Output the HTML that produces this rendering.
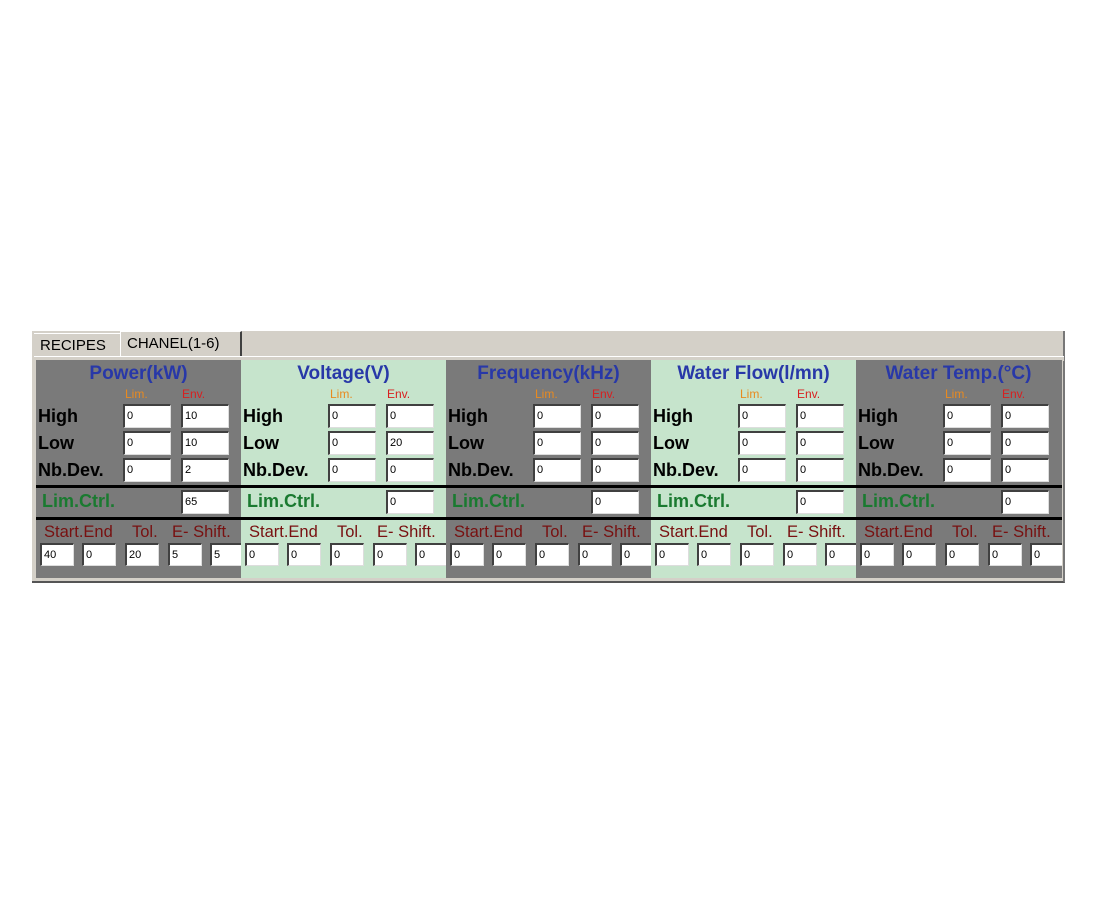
<!DOCTYPE html>
<html><head><style>
body{margin:0;width:1100px;height:900px;background:#fff;position:relative;font-family:"Liberation Sans",sans-serif;overflow:hidden}
.a{position:absolute}
#outer{left:32px;top:331px;width:1033px;height:252px;background:#d4d0c8;border-bottom:2px solid #555;border-right:2px solid #777;box-sizing:border-box}
.tab{position:absolute;top:333px;height:23px;font-size:15px;line-height:23px;color:#000;padding-left:6px;box-sizing:border-box}
.col{position:absolute;top:360px;width:205px;height:218px;overflow:hidden}
.g{background:#7a7a7a}.l{background:#c6e4cc}
.t{position:absolute;top:3px;left:0;width:205px;text-align:center;font-weight:bold;font-size:19px;color:#2838a8}
.lim{position:absolute;top:27px;left:89px;font-size:12px;color:#e88a20}
.env{position:absolute;top:27px;left:146px;font-size:12px;color:#d82020}
.lb{position:absolute;left:2px;font-weight:bold;font-size:18px;color:#000}
.i{position:absolute;background:#fff;border-top:2px solid #404040;border-left:2px solid #404040;border-right:1px solid #ddd;border-bottom:1px solid #ddd;box-sizing:border-box;font-size:11px;padding-left:2px;line-height:20px;color:#000}
.w{width:48px;height:24px;line-height:20px}
.s{width:34px;height:23px;top:183px}
.bar{position:absolute;left:0;width:205px;height:3px;background:#000}
.lc{position:absolute;left:6px;top:131px;font-size:18px;font-weight:bold;color:#1a7a30}
.se{position:absolute;top:163px;font-size:16.5px;color:#781010}
</style></head><body>
<div id="outer" class="a"></div>
<div class="tab" style="left:34px;width:86px;background:#d4d0c8;border-top:1px solid #fff">RECIPES</div>
<div class="tab" style="left:120px;width:122px;top:331px;height:25px;border-right:2px solid #404040;border-top:1px solid #fff;border-left:1px solid #fff">CHANEL(1-6)</div>
<div class="a" style="left:34px;top:356px;width:1030px;height:4px;background:#d4d0c8;border-top:1px solid #fff"></div>

<div class="col g" style="left:36px">
<div class="t">Power(kW)</div><div class="lim">Lim.</div><div class="env">Env.</div>
<div class="lb" style="top:46px">High</div><div class="lb" style="top:73px">Low</div><div class="lb" style="top:100px">Nb.Dev.</div>
<div class="i w" style="left:87px;top:44px">0</div><div class="i w" style="left:145px;top:44px">10</div>
<div class="i w" style="left:87px;top:71px">0</div><div class="i w" style="left:145px;top:71px">10</div>
<div class="i w" style="left:87px;top:98px">0</div><div class="i w" style="left:145px;top:98px">2</div>
<div class="bar" style="top:125px"></div><div class="lc">Lim.Ctrl.</div><div class="i w" style="left:145px;top:130px">65</div>
<div class="bar" style="top:157px"></div>
<div class="se" style="left:8px">Start.End</div><div class="se" style="left:96px">Tol.</div><div class="se" style="left:136px">E- Shift.</div>
<div class="i s" style="left:4px">40</div><div class="i s" style="left:46px">0</div><div class="i s" style="left:89px">20</div><div class="i s" style="left:132px">5</div><div class="i s" style="left:174px">5</div>
</div>
<div class="col l" style="left:241px">
<div class="t">Voltage(V)</div><div class="lim">Lim.</div><div class="env">Env.</div>
<div class="lb" style="top:46px">High</div><div class="lb" style="top:73px">Low</div><div class="lb" style="top:100px">Nb.Dev.</div>
<div class="i w" style="left:87px;top:44px">0</div><div class="i w" style="left:145px;top:44px">0</div>
<div class="i w" style="left:87px;top:71px">0</div><div class="i w" style="left:145px;top:71px">20</div>
<div class="i w" style="left:87px;top:98px">0</div><div class="i w" style="left:145px;top:98px">0</div>
<div class="bar" style="top:125px"></div><div class="lc">Lim.Ctrl.</div><div class="i w" style="left:145px;top:130px">0</div>
<div class="bar" style="top:157px"></div>
<div class="se" style="left:8px">Start.End</div><div class="se" style="left:96px">Tol.</div><div class="se" style="left:136px">E- Shift.</div>
<div class="i s" style="left:4px">0</div><div class="i s" style="left:46px">0</div><div class="i s" style="left:89px">0</div><div class="i s" style="left:132px">0</div><div class="i s" style="left:174px">0</div>
</div>
<div class="col g" style="left:446px">
<div class="t">Frequency(kHz)</div><div class="lim">Lim.</div><div class="env">Env.</div>
<div class="lb" style="top:46px">High</div><div class="lb" style="top:73px">Low</div><div class="lb" style="top:100px">Nb.Dev.</div>
<div class="i w" style="left:87px;top:44px">0</div><div class="i w" style="left:145px;top:44px">0</div>
<div class="i w" style="left:87px;top:71px">0</div><div class="i w" style="left:145px;top:71px">0</div>
<div class="i w" style="left:87px;top:98px">0</div><div class="i w" style="left:145px;top:98px">0</div>
<div class="bar" style="top:125px"></div><div class="lc">Lim.Ctrl.</div><div class="i w" style="left:145px;top:130px">0</div>
<div class="bar" style="top:157px"></div>
<div class="se" style="left:8px">Start.End</div><div class="se" style="left:96px">Tol.</div><div class="se" style="left:136px">E- Shift.</div>
<div class="i s" style="left:4px">0</div><div class="i s" style="left:46px">0</div><div class="i s" style="left:89px">0</div><div class="i s" style="left:132px">0</div><div class="i s" style="left:174px">0</div>
</div>
<div class="col l" style="left:651px">
<div class="t">Water Flow(l/mn)</div><div class="lim">Lim.</div><div class="env">Env.</div>
<div class="lb" style="top:46px">High</div><div class="lb" style="top:73px">Low</div><div class="lb" style="top:100px">Nb.Dev.</div>
<div class="i w" style="left:87px;top:44px">0</div><div class="i w" style="left:145px;top:44px">0</div>
<div class="i w" style="left:87px;top:71px">0</div><div class="i w" style="left:145px;top:71px">0</div>
<div class="i w" style="left:87px;top:98px">0</div><div class="i w" style="left:145px;top:98px">0</div>
<div class="bar" style="top:125px"></div><div class="lc">Lim.Ctrl.</div><div class="i w" style="left:145px;top:130px">0</div>
<div class="bar" style="top:157px"></div>
<div class="se" style="left:8px">Start.End</div><div class="se" style="left:96px">Tol.</div><div class="se" style="left:136px">E- Shift.</div>
<div class="i s" style="left:4px">0</div><div class="i s" style="left:46px">0</div><div class="i s" style="left:89px">0</div><div class="i s" style="left:132px">0</div><div class="i s" style="left:174px">0</div>
</div>
<div class="col g" style="left:856px;width:206px">
<div class="t">Water Temp.(°C)</div><div class="lim">Lim.</div><div class="env">Env.</div>
<div class="lb" style="top:46px">High</div><div class="lb" style="top:73px">Low</div><div class="lb" style="top:100px">Nb.Dev.</div>
<div class="i w" style="left:87px;top:44px">0</div><div class="i w" style="left:145px;top:44px">0</div>
<div class="i w" style="left:87px;top:71px">0</div><div class="i w" style="left:145px;top:71px">0</div>
<div class="i w" style="left:87px;top:98px">0</div><div class="i w" style="left:145px;top:98px">0</div>
<div class="bar" style="top:125px;width:206px"></div><div class="lc">Lim.Ctrl.</div><div class="i w" style="left:145px;top:130px">0</div>
<div class="bar" style="top:157px;width:206px"></div>
<div class="se" style="left:8px">Start.End</div><div class="se" style="left:96px">Tol.</div><div class="se" style="left:136px">E- Shift.</div>
<div class="i s" style="left:4px">0</div><div class="i s" style="left:46px">0</div><div class="i s" style="left:89px">0</div><div class="i s" style="left:132px">0</div><div class="i s" style="left:174px">0</div>
</div>
</body></html>
